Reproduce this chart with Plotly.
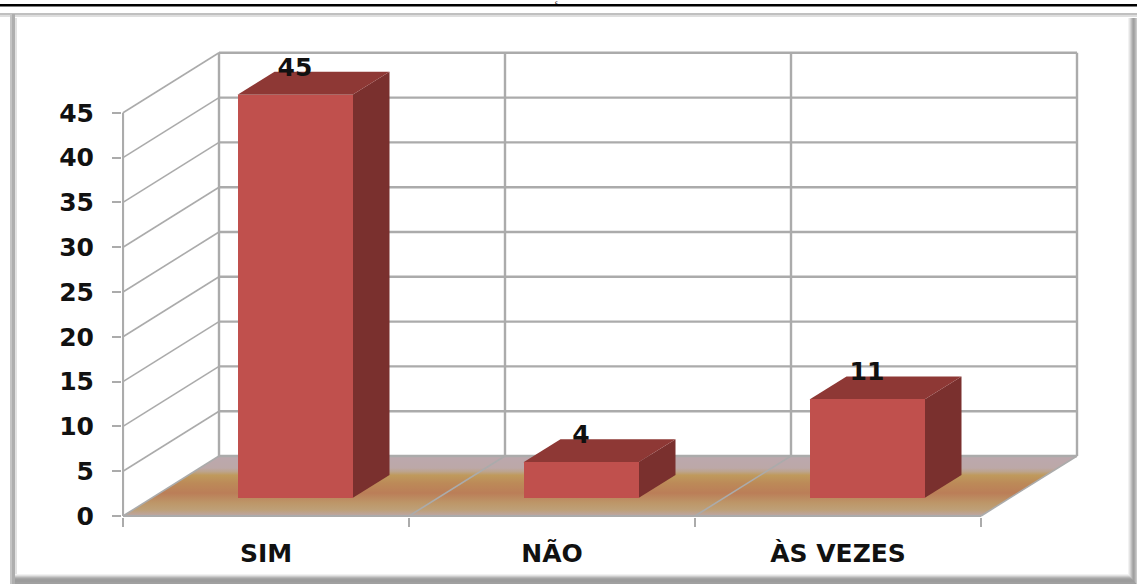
import plotly.graph_objects as go

# Survey answers
categories = ["SIM", "NÃO", "ÀS VEZES"]
counts = [45, 4, 11]
y_ticks = [0, 5, 10, 15, 20, 25, 30, 35, 40, 45]

W, H = 1137, 584
ORIGIN_X, ORIGIN_Y = 123, 516   # where the zero count meets the first category
BAND_PX = 286.0                 # width of one category on the front edge
UNIT_PX = 8.96                  # pixels per count

# The plot area is a little larger than the box so edge rules are not dropped
PLOT_L, PLOT_R, PLOT_T, PLOT_B = 122, 1086, 44, 517

px_x = lambda p: p / BAND_PX
px_y = lambda p: p / UNIT_PX

# Oblique projection of the chart box and of each column
DEPTH_X, DEPTH_Y = px_x(96), px_y(60)
BAR_W = px_x(115)
BAR_DX, BAR_DY = px_x(29), px_y(18)
BAR_DEPTH_X, BAR_DEPTH_Y = px_x(37), px_y(23)
LABEL_LIFT = px_y(43.5)

FRONT, SIDE, TOP = "#C0504D", "#7A302E", "#8E3835"
GRID = "#ABABAB"
FONT = "DejaVu Sans"
n = len(categories)
fig = go.Figure()


def line(xs, ys, color=GRID, width=2.2, z=1):
    fig.add_trace(go.Scatter(x=xs, y=ys, mode="lines", cliponaxis=False, zorder=z,
                             line=dict(color=color, width=width), hoverinfo="skip",
                             showlegend=False))


# Floor with its banded gradient, listed from the front edge to the back
fig.add_trace(go.Scatter(
    x=[0, n, n + DEPTH_X, DEPTH_X, 0], y=[0, 0, DEPTH_Y, DEPTH_Y, 0],
    mode="lines", fill="toself", cliponaxis=False, zorder=0, showlegend=False,
    line=dict(width=0), hoverinfo="skip",
    fillgradient=dict(type="vertical", colorscale=[
        [0.0, "#BCA6A6"], [0.1, "#BEA078"], [0.22, "#BD9668"], [0.38, "#BB7E58"],
        [0.55, "#BC8A58"], [0.68, "#BF9A5C"], [0.74, "#BDA48C"], [0.8, "#BCA8A8"],
        [1.0, "#BCA8AE"]])))

# Walls: horizontal rules on the back, slanted rules on the left side
for v in y_ticks:
    if v:
        line([0, DEPTH_X], [v, v + DEPTH_Y], width=1.6)
    line([DEPTH_X, n + DEPTH_X], [v + DEPTH_Y, v + DEPTH_Y], width=2.4)
for i in range(n + 1):
    line([i, i + DEPTH_X], [0, DEPTH_Y], width=1.6)
    line([i + DEPTH_X, i + DEPTH_X], [DEPTH_Y, y_ticks[-1] + DEPTH_Y], width=2.4)
line([0, 0], [0, y_ticks[-1]])
line([0, n], [0, 0])

# Columns: the front face is a bar, side and top are filled polygons
centers = [i + 0.5 + BAR_DX for i in range(n)]
for c, v in zip(centers, counts):
    l, r = c - BAR_W / 2, c + BAR_W / 2
    b, t = BAR_DY, BAR_DY + v
    fig.add_trace(go.Scatter(
        x=[r, r + BAR_DEPTH_X, r + BAR_DEPTH_X, r, r],
        y=[b, b + BAR_DEPTH_Y, t + BAR_DEPTH_Y, t, b],
        mode="lines", fill="toself", fillcolor=SIDE, line=dict(width=0),
        cliponaxis=False, zorder=2, showlegend=False, hoverinfo="skip"))
    fig.add_trace(go.Scatter(
        x=[l, r, r + BAR_DEPTH_X, l + BAR_DEPTH_X, l],
        y=[t, t, t + BAR_DEPTH_Y, t + BAR_DEPTH_Y, t],
        mode="lines", fill="toself", fillcolor=TOP, line=dict(width=0),
        cliponaxis=False, zorder=2, showlegend=False, hoverinfo="skip"))

fig.add_trace(go.Bar(
    x=centers, y=counts, base=BAR_DY, width=BAR_W,
    marker=dict(color=FRONT, line=dict(width=0)), cliponaxis=False,
    zorder=3, showlegend=False, hoverinfo="skip"))

# Value labels sit over the top face of each column
fig.add_trace(go.Scatter(
    x=centers, y=[v + LABEL_LIFT for v in counts], text=[str(v) for v in counts],
    mode="text", textposition="middle center", cliponaxis=False, zorder=4,
    textfont=dict(family=FONT, size=25, weight="bold", color="#111111"),
    showlegend=False, hoverinfo="skip"))

# Slide-style frame, and the rule across the top of the page
paper_x = lambda p: (p - PLOT_L) / (PLOT_R - PLOT_L)
paper_y = lambda p: (PLOT_B - p) / (PLOT_B - PLOT_T)


def rect(x0, y0, x1, y1, color):
    return dict(type="rect", xref="paper", yref="paper", layer="below",
                x0=paper_x(x0), x1=paper_x(x1), y0=paper_y(y0), y1=paper_y(y1),
                fillcolor=color, line=dict(width=0))


shapes = [rect(0, 13, W, 15, "#C0C0C0"), rect(0, 15, W, 17, "#DEDEDE")]
shapes += [rect(10, 14, 12, H, "#C4C4C4"), rect(12, 14, 15, H, "#AEAEAE"), rect(15, 18, 17, H, "#E2E2E2")]
for i, shade in enumerate(["#F2F2F2", "#E4E4E4", "#D2D2D2", "#BEBEBE", "#ABABAB", "#A0A0A0", "#A8A8A8", "#B8B8B8", "#CACACA"]):
    shapes.append(rect(1128 + i, 18, 1129 + i, H, shade))
for i, shade in enumerate(["#F2F2F2", "#E2E2E2", "#CCCCCC", "#B6B6B6", "#A6A6A6", "#9E9E9E", "#9C9C9C", "#9C9C9C", "#A0A0A0", "#A0A0A0"]):
    shapes.append(rect(15, 574 + i, 1128 + i * 0.9, 575 + i, shade))
shapes.append(rect(0, 4, W, 6.5, "#000000"))

fig.update_layout(
    width=W, height=H, autosize=False, shapes=shapes,
    margin=dict(l=PLOT_L, r=W - PLOT_R, t=PLOT_T, b=H - PLOT_B, pad=0),
    paper_bgcolor="#FFFFFF", plot_bgcolor="rgba(0,0,0,0)", bargap=0,
    font=dict(family=FONT, color="#111111"),
    xaxis=dict(range=[px_x(PLOT_L - ORIGIN_X), px_x(PLOT_R - ORIGIN_X)], tickmode="array",
               tickvals=[i + 0.5 for i in range(n)], ticktext=categories,
               ticks="", showgrid=False, zeroline=False, showline=False,
               ticklabelstandoff=19,
               tickfont=dict(family=FONT, size=25, weight="bold"),
               minor=dict(tickmode="array", tickvals=list(range(n + 1)), ticks="outside",
                          ticklen=9, tickwidth=2, tickcolor=GRID, showgrid=False)),
    yaxis=dict(range=[px_y(ORIGIN_Y - PLOT_B), px_y(ORIGIN_Y - PLOT_T)], tickmode="array",
               tickvals=y_ticks, ticks="outside", ticklen=9, tickwidth=2, tickcolor=GRID,
               showgrid=False, zeroline=False, showline=False, ticklabelstandoff=13,
               tickfont=dict(family=FONT, size=25, weight="bold")),
    annotations=[dict(text="Ç", xref="paper", yref="paper", x=paper_x(556), y=paper_y(4.5),
                      xanchor="center", yanchor="bottom", showarrow=False, borderpad=0, borderwidth=0,
                      font=dict(family=FONT, size=3.5, weight="bold", color="#111111"))],
)

fig.write_html("out.html")
